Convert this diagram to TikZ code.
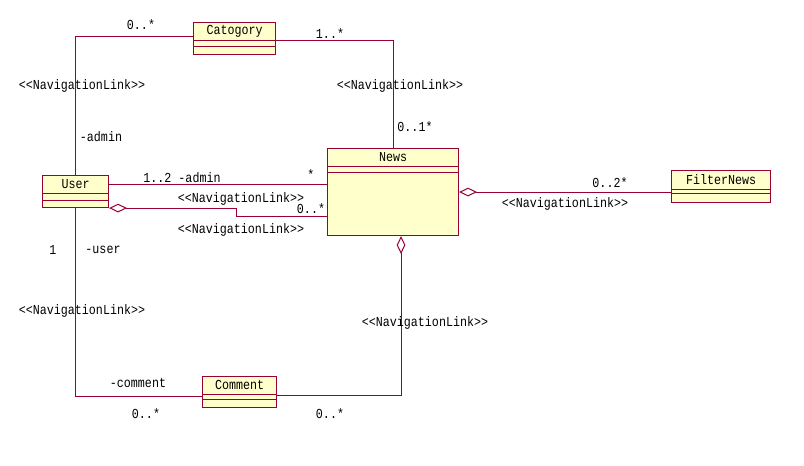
\documentclass[tikz,border=0pt]{standalone}
\usepackage{fontspec}
\newfontfamily\umlfont[FakeStretch=0.85]{Liberation Mono}
\usetikzlibrary{arrows.meta, calc, positioning}
\definecolor{umlred}{HTML}{990033}
\definecolor{umlyellow}{HTML}{FFFFCC}

\begin{document}
\begin{tikzpicture}[
    x=0.75pt, y=-0.75pt,
    cls/.style={rectangle, draw=umlred, fill=umlyellow, line width=0.8pt, anchor=north west, inner sep=0pt},
    clsname/.style={font=\umlfont\fontsize{10.3}{12}\selectfont, inner sep=0pt},
    link/.style={draw=umlred, line width=0.75pt},
    agg/.style={link, {Diamond[fill=white, length=13.5pt, width=6.5pt]}-},
    txt/.style={font=\umlfont\fontsize{10.3}{12}\selectfont, inner sep=0pt}
]
\useasboundingbox (0,0) rectangle (804,465);

% Classes
\node[cls, minimum width=61.5pt, minimum height=24pt] (cat) at (193,22) {};
\node[cls, minimum width=49.5pt, minimum height=24pt] (user) at (42,175) {};
\node[cls, minimum width=98.25pt, minimum height=65.25pt] (news) at (327,148) {};
\node[cls, minimum width=74.25pt, minimum height=24pt] (filter) at (671,170) {};
\node[cls, minimum width=55.5pt, minimum height=23.25pt] (comment) at (202,376) {};

\node[clsname] (catname) at ($(cat.north)+(0,9)$) {Catogory};
\node[clsname] (username) at ($(user.north)+(0,9)$) {User};
\node[clsname] (newsname) at ($(news.north)+(0,9)$) {News};
\node[clsname] (filtername) at ($(filter.north)+(0,9.5)$) {FilterNews};
\node[clsname] (commentname) at ($(comment.north)+(0,9)$) {Comment};

% Compartments
\foreach \c/\a/\b in {cat/18/24, user/18/25, news/18/24, filter/19/23, comment/18/23} {
  \draw[link, line width=0.7pt] ($(\c.north west)+(0,\a)$) -- ($(\c.north east)+(0,\a)$);
  \draw[link, line width=0.7pt] ($(\c.north west)+(0,\b)$) -- ($(\c.north east)+(0,\b)$);
}

% Associations
\draw[link] ($(cat.west)+(0,-2)$) -| (user.north);
\draw[link] ($(cat.east)+(0,2)$) -| (news.north);
\draw[link] ($(user.east)+(0,-7)$) coordinate (ua) -- (ua -| news.west);
\draw[agg] (user.south east) -- ++(127,0) |- ($(news.west)+(0,24)$);
\draw[agg] (news.east) -- (news.east -| filter.west);
\draw[agg] ($(news.south)+(8,0)$) |- ($(comment.east)+(0,3)$);
\draw[link] (user.south) |- ($(comment.west)+(0,4)$);

% Labels
\node[txt] (m1) at (141,25) {0..*};
\node[txt] (m2) at (330,34) {1..*};
\node[txt] (s1) at (400,86) {<<NavigationLink>>};
\node[txt] (m3) at (415,127) {0..1*};
\node[txt] (s2) at (82,86) {<<NavigationLink>>};
\node[txt] (r1) at (101,137) {-admin};
\node[txt] (r2) at (182,178) {1..2 -admin};
\node[txt] (m4) at (311,175) {*};
\node[txt] (s3) at (241,199) {<<NavigationLink>>};
\node[txt] (m5) at (311,209) {0..*};
\node[txt] (s4) at (241,230) {<<NavigationLink>>};
\node[txt] (m6) at (53,250) {1};
\node[txt] (r3) at (103,250) {-user};
\node[txt] (s5) at (82,311) {<<NavigationLink>>};
\node[txt] (r4) at (138,383) {-comment};
\node[txt] (m7) at (146,414) {0..*};
\node[txt] (s6) at (425,323) {<<NavigationLink>>};
\node[txt] (m8) at (330,414) {0..*};
\node[txt] (m9) at (610,183) {0..2*};
\node[txt] (s7) at (565,204) {<<NavigationLink>>};

\end{tikzpicture}
\end{document}
